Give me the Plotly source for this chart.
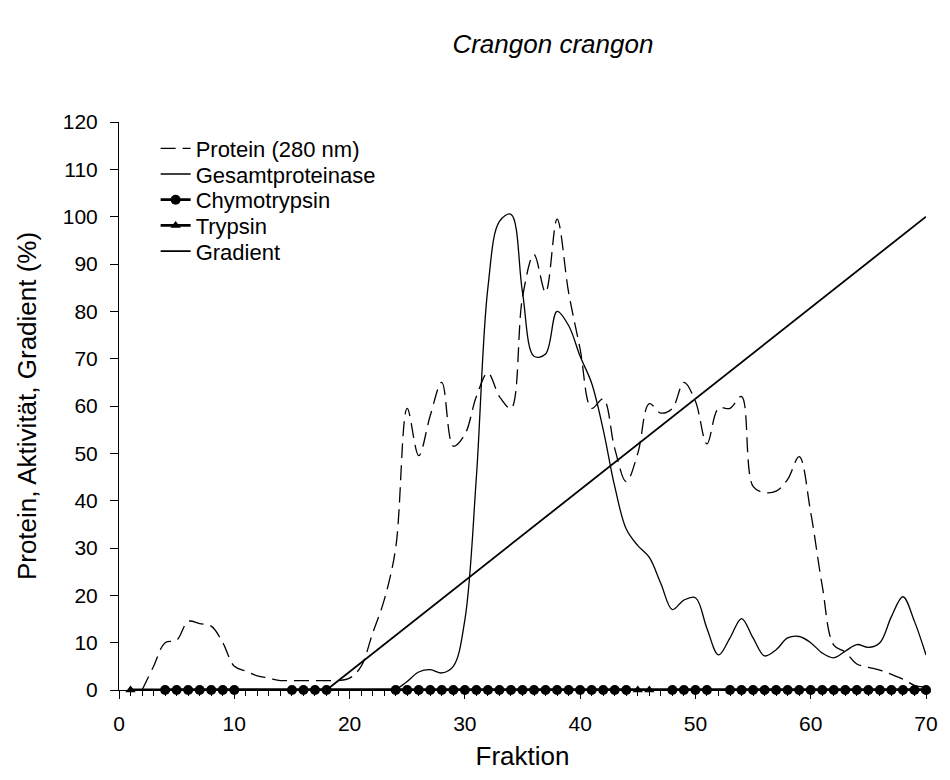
import plotly.graph_objects as go

# ---- data ----
protein_x = list(range(2, 71))
protein_y = [0, 5, 10, 10.5, 14.5, 14, 13.5, 10, 5, 4, 3, 2.5, 2, 2, 2, 2, 2, 2, 2.5,
             5, 12, 19, 30, 59.5, 49.5, 58, 65, 51.5, 54, 62, 67, 62, 59.5, 83, 92, 84,
             99.5, 84, 72, 59.5, 61.5, 51, 44, 50, 60.5, 58.5, 59.5, 65, 61, 52, 59.5,
             59.5, 62, 43, 41.7, 42, 44.5, 49.3, 37.5, 22, 9.5, 8, 5.5, 4.8, 4.2, 3.3,
             2.3, 1, 0.6]

gesamt_x = list(range(24, 71))
gesamt_y = [0, 1.8, 3.8, 4.3, 3.6, 5, 14.8, 45, 85, 99, 100.5, 84, 70.5, 71, 80, 77,
            70.5, 64.8, 55, 43, 34, 30.5, 28, 22.5, 17, 19, 19.5, 13, 7.4, 11, 15.1,
            11, 7.2, 8.5, 11, 11.3, 10, 7.8, 6.8, 8.2, 9.6, 9, 10, 15.5, 19.7, 14.5, 7.4]

chymo_x = (list(range(4, 11)) + list(range(15, 19)) + list(range(24, 45))
           + list(range(48, 52)) + list(range(53, 71)))
chymo_y = [0] * len(chymo_x)

trypsin_x = [1, 45, 46, 70]
trypsin_y = [0, 0, 0, 0]

gradient_x = [18, 70]
gradient_y = [0, 100]

x_ticks = [0, 10, 20, 30, 40, 50, 60, 70]
y_ticks = list(range(0, 121, 10))

FONT = "Liberation Sans, Arial, sans-serif"

fig = go.Figure()
fig.add_trace(go.Scatter(x=protein_x, y=protein_y, mode="lines", name="Protein (280 nm)",
                         line=dict(color="black", width=1.3, dash="15px,7px", shape="spline", smoothing=1),
                         cliponaxis=False, legend="legend"))
fig.add_trace(go.Scatter(x=gesamt_x, y=gesamt_y, mode="lines", name="Gesamtproteinase",
                         line=dict(color="black", width=1.3, shape="spline", smoothing=1),
                         cliponaxis=False, legend="legend2"))
fig.add_trace(go.Scatter(x=chymo_x, y=chymo_y, mode="lines+markers", name="Chymotrypsin",
                         line=dict(color="black", width=2.8),
                         marker=dict(symbol="circle", size=10, color="black"),
                         cliponaxis=False, legend="legend3"))
fig.add_trace(go.Scatter(x=trypsin_x, y=trypsin_y, mode="lines+markers", name="Trypsin",
                         line=dict(color="black", width=2.8),
                         marker=dict(symbol="triangle-up", size=9, color="black"),
                         cliponaxis=False, legend="legend4"))
fig.add_trace(go.Scatter(x=gradient_x, y=gradient_y, mode="lines", name="Gradient",
                         line=dict(color="black", width=1.8),
                         cliponaxis=False, legend="legend5"))

legend_rows = [0.9533, 0.9081, 0.8629, 0.8176, 0.7724]
legend_common = dict(x=0.0454, xanchor="left", yanchor="middle", bgcolor="rgba(0,0,0,0)",
                     font=dict(family=FONT, size=22, color="black"), borderwidth=0)
legends = {}
for i, yy in enumerate(legend_rows):
    key = "legend" if i == 0 else f"legend{i + 1}"
    legends[key] = dict(legend_common, y=yy)

fig.update_layout(
    width=950, height=780,
    margin=dict(l=119, r=15, t=122, b=90),
    paper_bgcolor="white", plot_bgcolor="white",
    font=dict(family=FONT, color="black", size=21),
    title=dict(text="<i>Crangon crangon</i>", x=0.582, xref="container", xanchor="center",
               y=0.944, yref="container", yanchor="middle",
               font=dict(family=FONT, size=26, color="black")),
    showlegend=True,
    **legends,
)
fig.update_xaxes(range=[0, 70], tickvals=x_ticks, showline=True, linecolor="black", linewidth=1,
                 ticks="outside", ticklen=8, tickcolor="black", showgrid=False, zeroline=False,
                 minor=dict(dtick=1, ticks="outside", ticklen=5, tickcolor="black", showgrid=False),
                 ticklabelstandoff=7,
                 title=dict(text="Fraktion", font=dict(family=FONT, size=26), standoff=12),
                 tickfont=dict(size=21))
fig.update_yaxes(range=[0, 120], tickvals=y_ticks, showline=True, linecolor="black", linewidth=1,
                 ticks="outside", ticklen=8, tickcolor="black", showgrid=False, zeroline=False,
                 ticklabelstandoff=8,
                 title=dict(text="Protein, Aktivität, Gradient (%)", font=dict(family=FONT, size=26), standoff=18),
                 tickfont=dict(size=21))

fig.write_html("out.html")
